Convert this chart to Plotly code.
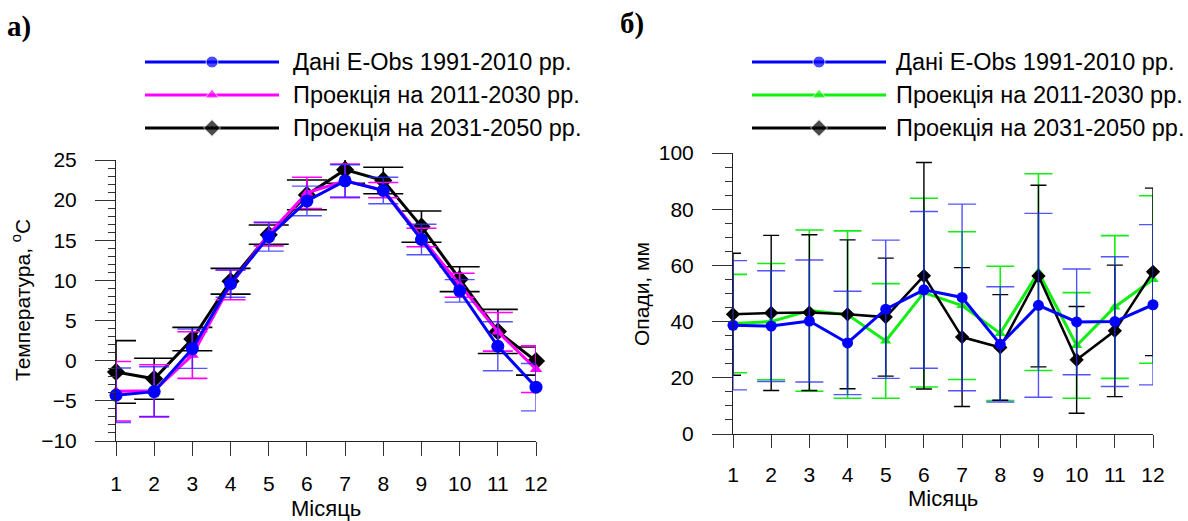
import plotly.graph_objects as go

W, H = 1188, 521

months = [1, 2, 3, 4, 5, 6, 7, 8, 9, 10, 11, 12]
month_labels = [str(m) for m in months]

series_names = ["Дані E-Obs 1991-2010 рр.", "Проекція на 2011-2030 рр.", "Проекція на 2031-2050 рр."]

# Temperature, °C (panel a)
temp_obs = [-4.3, -3.85, 1.5, 9.6, 15.45, 19.9, 22.4, 21.2, 15.1, 8.7, 1.8, -3.3]
temp_obs_sd = [3.4, 3.1, 2.45, 1.7, 1.8, 1.85, 2.0, 1.65, 1.9, 1.4, 3.05, 2.95]
temp_p1 = [-3.8, -3.75, 0.7, 9.45, 15.75, 20.9, 22.4, 21.25, 15.35, 9.4, 3.6, -1.05]
temp_p1_sd = [3.7, 3.25, 2.9, 1.85, 1.45, 1.95, 2.1, 0.95, 1.15, 1.5, 2.4, 2.9]
temp_p2 = [-1.4, -2.25, 2.7, 9.9, 15.7, 20.65, 23.8, 22.45, 16.7, 10.15, 3.65, -0.05]
temp_p2_sd = [3.9, 2.55, 1.45, 1.6, 1.2, 1.85, 1.7, 1.65, 1.95, 1.55, 2.75, 1.75]

# Precipitation, mm (panel b)
pr_obs = [38.7, 38.4, 40.2, 32.4, 44.4, 51.3, 48.6, 31.9, 45.8, 39.9, 40.0, 46.0]
pr_obs_sd = [23.0, 19.7, 21.7, 18.4, 24.6, 27.9, 33.2, 20.5, 32.7, 18.8, 23.1, 28.5]
pr_p1 = [39.3, 40.0, 43.9, 42.5, 33.1, 50.3, 45.7, 35.8, 57.6, 31.5, 45.2, 55.0]
pr_p1_sd = [17.5, 20.7, 28.7, 29.8, 20.4, 33.6, 26.3, 23.9, 35.0, 18.8, 25.4, 29.8]
pr_p2 = [42.6, 43.1, 43.2, 42.6, 41.6, 56.3, 34.5, 30.8, 56.2, 26.4, 36.7, 57.7]
pr_p2_sd = [21.7, 27.6, 27.7, 26.5, 21.0, 40.3, 24.7, 18.8, 32.3, 19.0, 23.4, 29.8]

BLUE = "#0000ff"
BLUE_EB = "rgba(40,40,255,0.8)"
MAGENTA = "#ff00ff"
GREEN = "#11ee11"
BLACK = "#000000"

SANS = "Arial, Liberation Sans, sans-serif"
SERIF = "Times New Roman, Liberation Serif, serif"

fig = go.Figure()


def add_series(x, y, sd, color, ebcolor, symbol, msize, lw, ebw, ebt, xa, ya):
    fig.add_trace(go.Scatter(
        x=x, y=y, mode="lines+markers", xaxis=xa, yaxis=ya, showlegend=False,
        line=dict(color=color, width=lw),
        marker=dict(symbol=symbol, size=msize, color=color),
        error_y=dict(type="data", array=sd, visible=True, color=ebcolor,
                     thickness=ebt, width=ebw),
        cliponaxis=False,
    ))


# Panel a: draw black, magenta, then blue on top
add_series(months, temp_p2, temp_p2_sd, BLACK, BLACK, "diamond", 14, 3, 20, 1.6, "x", "y")
add_series(months, temp_p1, temp_p1_sd, MAGENTA, MAGENTA, "triangle-up", 11, 3, 15, 1.6, "x", "y")
add_series(months, temp_obs, temp_obs_sd, BLUE, BLUE_EB, "circle", 13, 3, 15, 1.4, "x", "y")

# Panel b
add_series(months, pr_p1, pr_p1_sd, GREEN, GREEN, "triangle-up", 10, 3, 14, 1.6, "x2", "y2")
add_series(months, pr_p2, pr_p2_sd, BLACK, BLACK, "diamond", 11, 2.5, 8, 1.4, "x2", "y2")
add_series(months, pr_obs, pr_obs_sd, BLUE, BLUE_EB, "circle", 11, 3, 14, 1.4, "x2", "y2")

# Custom legend keys (long line with marker in the middle) on an overlay pixel axis
legend_rows = [62, 95, 128]
legend_specs = [
    (145, 279, [BLUE, MAGENTA, BLACK]),
    (752, 886, [BLUE, GREEN, BLACK]),
]
symbols = ["circle", "triangle-up", "diamond"]
sizes = [12, 12, 13]
for x0, x1, cols in legend_specs:
    for row, col, sym, sz in zip(legend_rows, cols, symbols, sizes):
        fig.add_trace(go.Scatter(
            x=[x0, (x0 + x1) / 2, x1], y=[row, row, row], mode="lines+markers",
            xaxis="x3", yaxis="y3", showlegend=False, hoverinfo="skip",
            line=dict(color=col, width=3),
            marker=dict(symbol=sym, size=[0, sz, 0], color=col),
            cliponaxis=False,
        ))

axis_common = dict(
    showline=True, linecolor="#222", linewidth=1, showgrid=False, zeroline=False,
    ticks="outside", tickcolor="#333", tickwidth=1,
    tickfont=dict(family=SANS, size=21, color="black"),
    automargin=False, fixedrange=True,
)

fig.update_layout(
    width=W, height=H, template="none",
    paper_bgcolor="white", plot_bgcolor="rgba(0,0,0,0)",
    margin=dict(l=0, r=0, t=0, b=0),
    showlegend=False,
    xaxis=dict(domain=[116 / W, 536 / W], range=[1, 12], tickvals=months, ticktext=month_labels,
               ticklen=14, ticklabelstandoff=10, anchor="y", **axis_common),
    yaxis=dict(domain=[1 - 441 / H, 1 - 160 / H], range=[-10, 25], dtick=5, tick0=0,
               ticklen=20, ticklabelstandoff=14, anchor="x",
               minor=dict(dtick=1, ticklen=7, ticks="outside", tickcolor="#333", showgrid=False),
               **axis_common),
    xaxis2=dict(domain=[733 / W, 1153 / W], range=[1, 12], tickvals=months, ticktext=month_labels,
                ticklen=13, ticklabelstandoff=9, anchor="y2", **axis_common),
    yaxis2=dict(domain=[1 - 434 / H, 1 - 153 / H], range=[0, 100], dtick=20, tick0=0,
                ticklen=20, ticklabelstandoff=14, anchor="x2",
                minor=dict(dtick=5, ticklen=7, ticks="outside", tickcolor="#333", showgrid=False),
                **axis_common),
    xaxis3=dict(domain=[0, 1], range=[0, W], visible=False, fixedrange=True, anchor="y3"),
    yaxis3=dict(domain=[0, 1], range=[H, 0], visible=False, fixedrange=True, anchor="x3"),
)

annotations = []
# legend texts
for xt in [291, 894]:
    for row, name in zip(legend_rows, series_names):
        annotations.append(dict(x=xt / W, y=1 - row / H, xref="paper", yref="paper",
                                text=name, showarrow=False, xanchor="left", yanchor="middle",
                                font=dict(family=SANS, size=23.5, color="black")))
# panel labels
annotations.append(dict(x=5 / W, y=1 - 26 / H, xref="paper", yref="paper", text="<b>а)</b>",
                        showarrow=False, xanchor="left", yanchor="middle",
                        font=dict(family=SERIF, size=29, color="black")))
annotations.append(dict(x=618 / W, y=1 - 24 / H, xref="paper", yref="paper", text="<b>б)</b>",
                        showarrow=False, xanchor="left", yanchor="middle",
                        font=dict(family=SERIF, size=29, color="black")))
# axis titles
annotations.append(dict(x=21 / W, y=1 - 300 / H, xref="paper", yref="paper",
                        text="Температура, <sup>o</sup>C", textangle=-90, showarrow=False,
                        xanchor="center", yanchor="middle",
                        font=dict(family=SANS, size=21, color="black")))
annotations.append(dict(x=641 / W, y=1 - 294 / H, xref="paper", yref="paper",
                        text="Опади, мм", textangle=-90, showarrow=False,
                        xanchor="center", yanchor="middle",
                        font=dict(family=SANS, size=21, color="black")))
annotations.append(dict(x=326 / W, y=1 - 508 / H, xref="paper", yref="paper",
                        text="Місяць", showarrow=False, xanchor="center", yanchor="middle",
                        font=dict(family=SANS, size=22, color="black")))
annotations.append(dict(x=943 / W, y=1 - 498 / H, xref="paper", yref="paper",
                        text="Місяць", showarrow=False, xanchor="center", yanchor="middle",
                        font=dict(family=SANS, size=22, color="black")))
fig.update_layout(annotations=annotations)

fig.write_html(
    "out.html",
    config={"displayModeBar": False},
    post_script="document.body.style.margin='0';document.body.style.padding='0';",
)
